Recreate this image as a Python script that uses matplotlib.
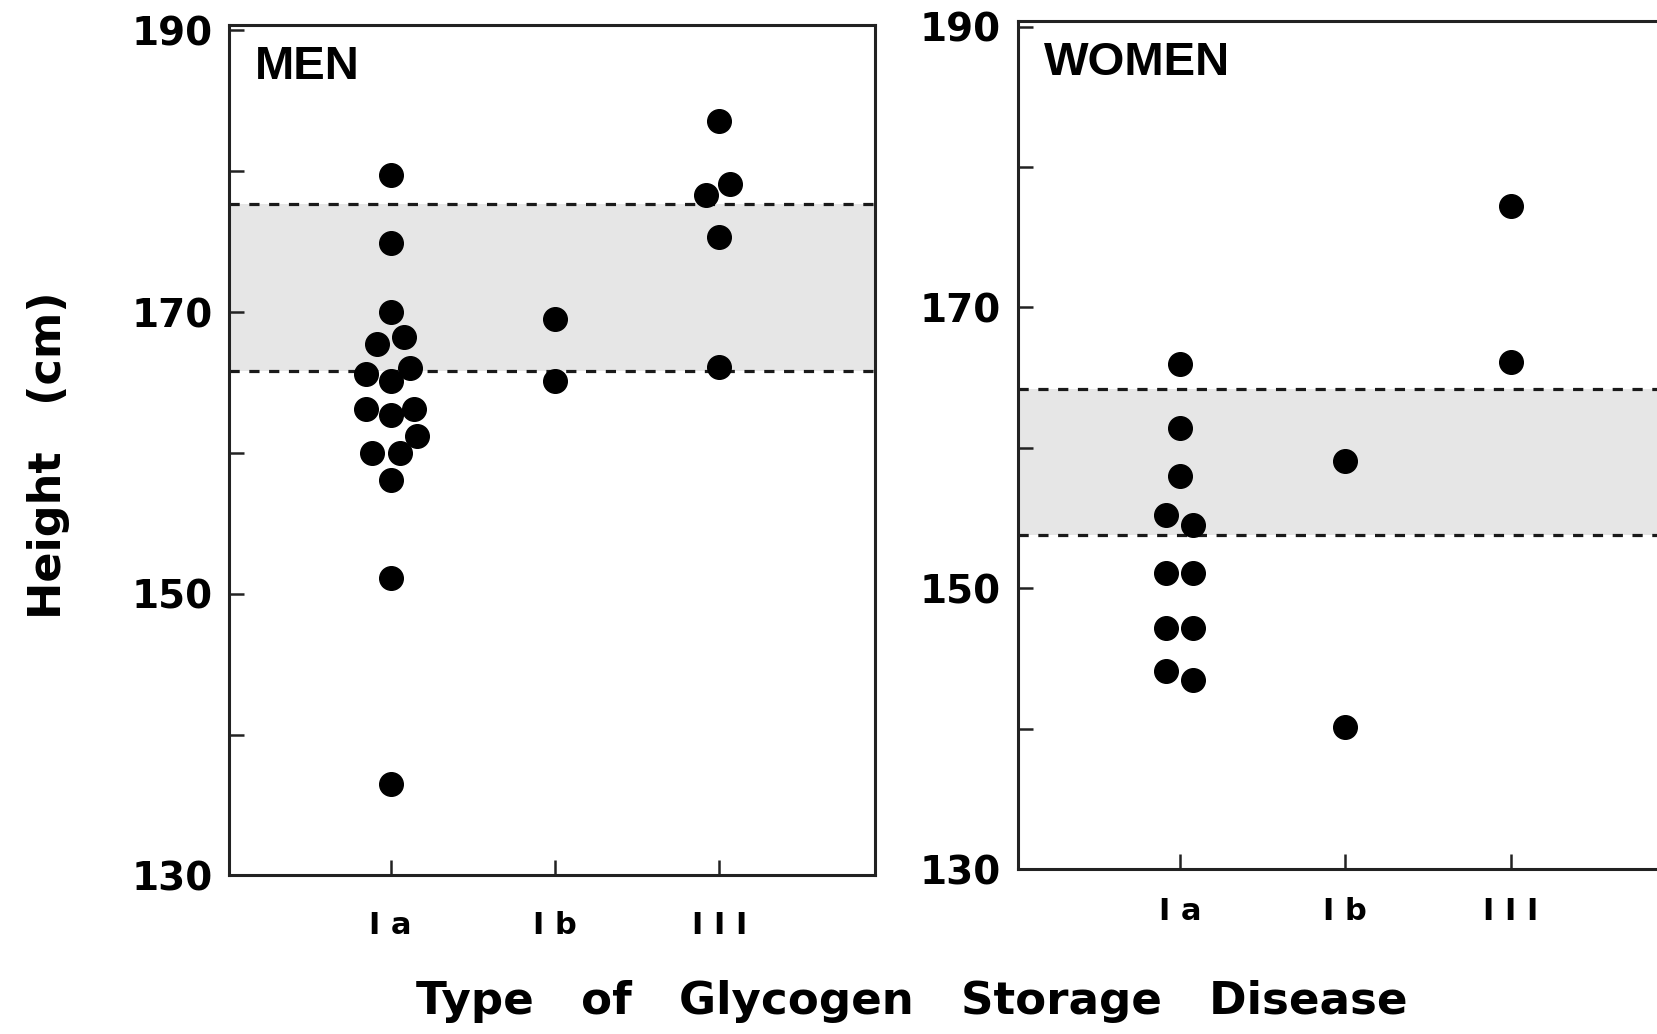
import matplotlib.pyplot as plt
import numpy as np

# categories
types = ['I a', 'I b', 'I I I']

# men heights (cm) per GSD type, with small horizontal jitter
men_ia = [179.7, 174.9, 170.0, 167.7, 168.2, 165.6, 165.1, 166.0, 163.1, 162.7,
          163.1, 161.2, 160.0, 160.0, 158.1, 151.1, 136.5]
men_ia_dx = [0, 0, 0, -0.085, 0.08, -0.15, 0, 0.12, -0.15, 0,
             0.14, 0.16, -0.11, 0.06, 0, 0, 0]
men_ib = [169.5, 165.1]
men_ib_dx = [0, 0]
men_iii = [183.6, 178.3, 179.1, 175.3, 166.1]
men_iii_dx = [0, -0.084, 0.062, 0, 0]
men_band = (165.8, 177.7)

# women
women_ia = [166.0, 161.4, 158.0, 155.2, 154.5, 151.1, 151.1, 147.2, 147.2, 144.1, 143.5]
women_ia_dx = [0, 0, 0, -0.082, 0.08, -0.082, 0.08, -0.082, 0.08, -0.082, 0.08]
women_ib = [159.1, 140.1]
women_ib_dx = [0, 0]
women_iii = [177.2, 166.1]
women_iii_dx = [0, 0]
women_band = (153.8, 164.2)

yticks = [130, 150, 170, 190]
yticklabels = ['130', '150', '170', '190']

plt.rcParams['font.family'] = ['DejaVu Sans']
plt.rcParams['font.weight'] = 'bold'
wide = ['DejaVu Sans']
narrow = ['Liberation Sans', 'DejaVu Sans']

fig = plt.figure(figsize=(16.57, 10.34), dpi=100)

ax_men = fig.add_axes([0.1384, 0.1534, 0.3896, 0.8226])
ax_women = fig.add_axes([0.6142, 0.1595, 0.3918, 0.8201])


def draw_panel(ax, groups, band, title, xpad):
    ax.axhspan(band[0], band[1], color='#e6e6e6', lw=0, zorder=0)
    for yb in band:
        ax.axhline(yb, color='#1a1a1a', lw=2.3, ls=(0, (3.2, 3.0)), zorder=1)
    for i, (vals, dx) in enumerate(groups):
        x = np.full(len(vals), i + 1.0) + np.array(dx)
        ax.plot(x, vals, 'o', color='black', markersize=17, zorder=3)
    ax.set_xlim(0.02, 3.945)
    ax.set_ylim(130, 190.4)
    ax.set_xticks([1, 2, 3])
    ax.set_xticklabels(types, fontsize=22, fontweight='bold', family=wide)
    ax.set_yticks(yticks)
    ax.set_yticklabels(yticklabels, fontsize=28, fontweight='bold', family=wide)
    ax.set_yticks([140, 160, 180], minor=True)
    ax.tick_params(axis='y', which='both', direction='in', length=11, width=1.8,
                   pad=12, color='#222222')
    ax.tick_params(axis='x', which='major', direction='in', length=11, width=1.8,
                   pad=xpad, color='#222222')
    for s in ax.spines.values():
        s.set_linewidth(2.2)
        s.set_color('#222222')
    ax.text(0.04, 0.95, title, transform=ax.transAxes, fontsize=34,
            fontweight='bold', ha='left', va='center', family=narrow)


draw_panel(ax_men, [(men_ia, men_ia_dx), (men_ib, men_ib_dx), (men_iii, men_iii_dx)],
           men_band, 'MEN', 26)
draw_panel(ax_women, [(women_ia, women_ia_dx), (women_ib, women_ib_dx),
                      (women_iii, women_iii_dx)],
           women_band, 'WOMEN', 20)

fig.text(0.029, 0.56, 'Height   (cm)', rotation=90, fontsize=32, fontweight='bold',
         ha='center', va='center', family=wide)
fig.text(0.55, 0.031, 'Type   of   Glycogen   Storage   Disease', fontsize=32.5,
         fontweight='bold', ha='center', va='center', family=wide)

fig.savefig('out.png', dpi=100)
